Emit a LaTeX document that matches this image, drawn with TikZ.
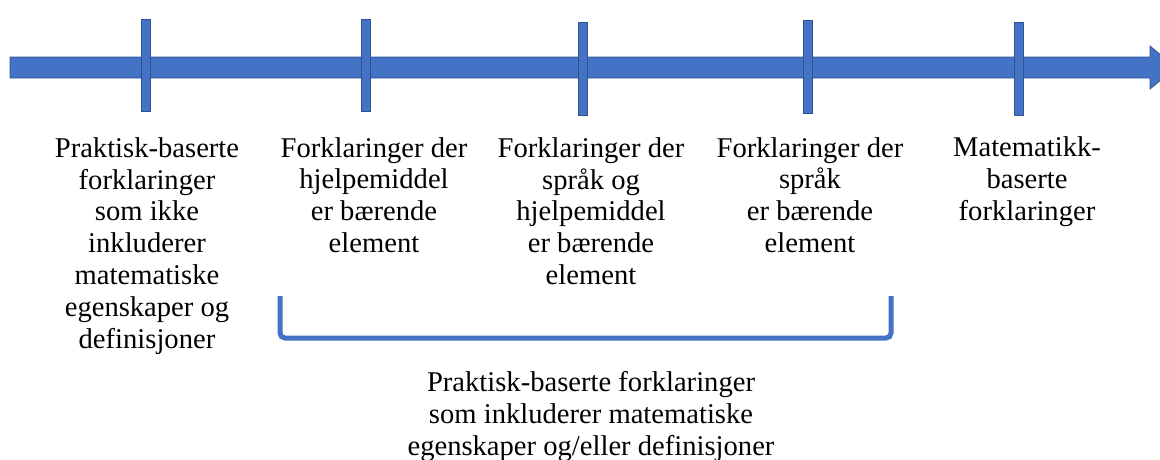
\documentclass[tikz,border=0pt]{standalone}
\usepackage{fontspec}
\setmainfont{Liberation Serif}
\definecolor{bar}{HTML}{4472C4}
\definecolor{barline}{HTML}{2F528F}
\begin{document}
\begin{tikzpicture}[x=1pt,y=-1pt,
  tickbar/.style={draw=barline, line width=0.8pt, fill=bar, inner sep=0pt, minimum width=9pt, minimum height=92pt},
  lbl/.style={align=center, font=\fontsize{28.6}{31.8}\selectfont, inner sep=0pt, anchor=base, text=black},
  brace/.style={draw=bar, line width=5pt, rounded corners=5pt}]
\useasboundingbox (0,0) rectangle (1160,459);
\clip (0,0) rectangle (1160,459);
% main arrow
\filldraw[fill=bar, draw=barline, line width=0.8pt] (10,57) -- (1150,57) -- (1150,46) -- (1176,67.5) -- (1150,89) -- (1150,78) -- (10,78) -- cycle;
% ticks
\node[tickbar] (t1) at (145.5,65) {};
\node[tickbar] (t2) at (365.5,65) {};
\node[tickbar, minimum height=93pt] (t3) at (583,68.5) {};
\node[tickbar, minimum height=93pt] (t4) at (807.5,66.5) {};
\node[tickbar, minimum height=93pt] (t5) at (1018.5,68.5) {};
% labels (anchored at the baseline of their last line)
\node[lbl] (l1) at (147,348) {Praktisk-baserte\\forklaringer\\som ikke\\inkluderer\\matematiske\\egenskaper og\\definisjoner};
\node[lbl] (l2) at (374,252.5) {Forklaringer der\\hjelpemiddel\\er bærende\\element};
\node[lbl] (l3) at (591,284.5) {Forklaringer der\\språk og\\hjelpemiddel\\er bærende\\element};
\node[lbl] (l4) at (810,252.5) {Forklaringer der\\språk\\er bærende\\element};
\node[lbl] (l5) at (1027,220.5) {Matematikk-\\baserte\\forklaringer};
% bracket
\coordinate (bl) at (280,296);
\coordinate (blb) at (280,338);
\coordinate (brb) at (891,338);
\coordinate (br) at (891,296);
\draw[brace] (bl) -- (blb) -- (brb) -- (br);
\node[lbl] (l6) at (591,455.5) {Praktisk-baserte forklaringer\\som inkluderer matematiske\\egenskaper og/eller definisjoner};
\end{tikzpicture}
\end{document}
